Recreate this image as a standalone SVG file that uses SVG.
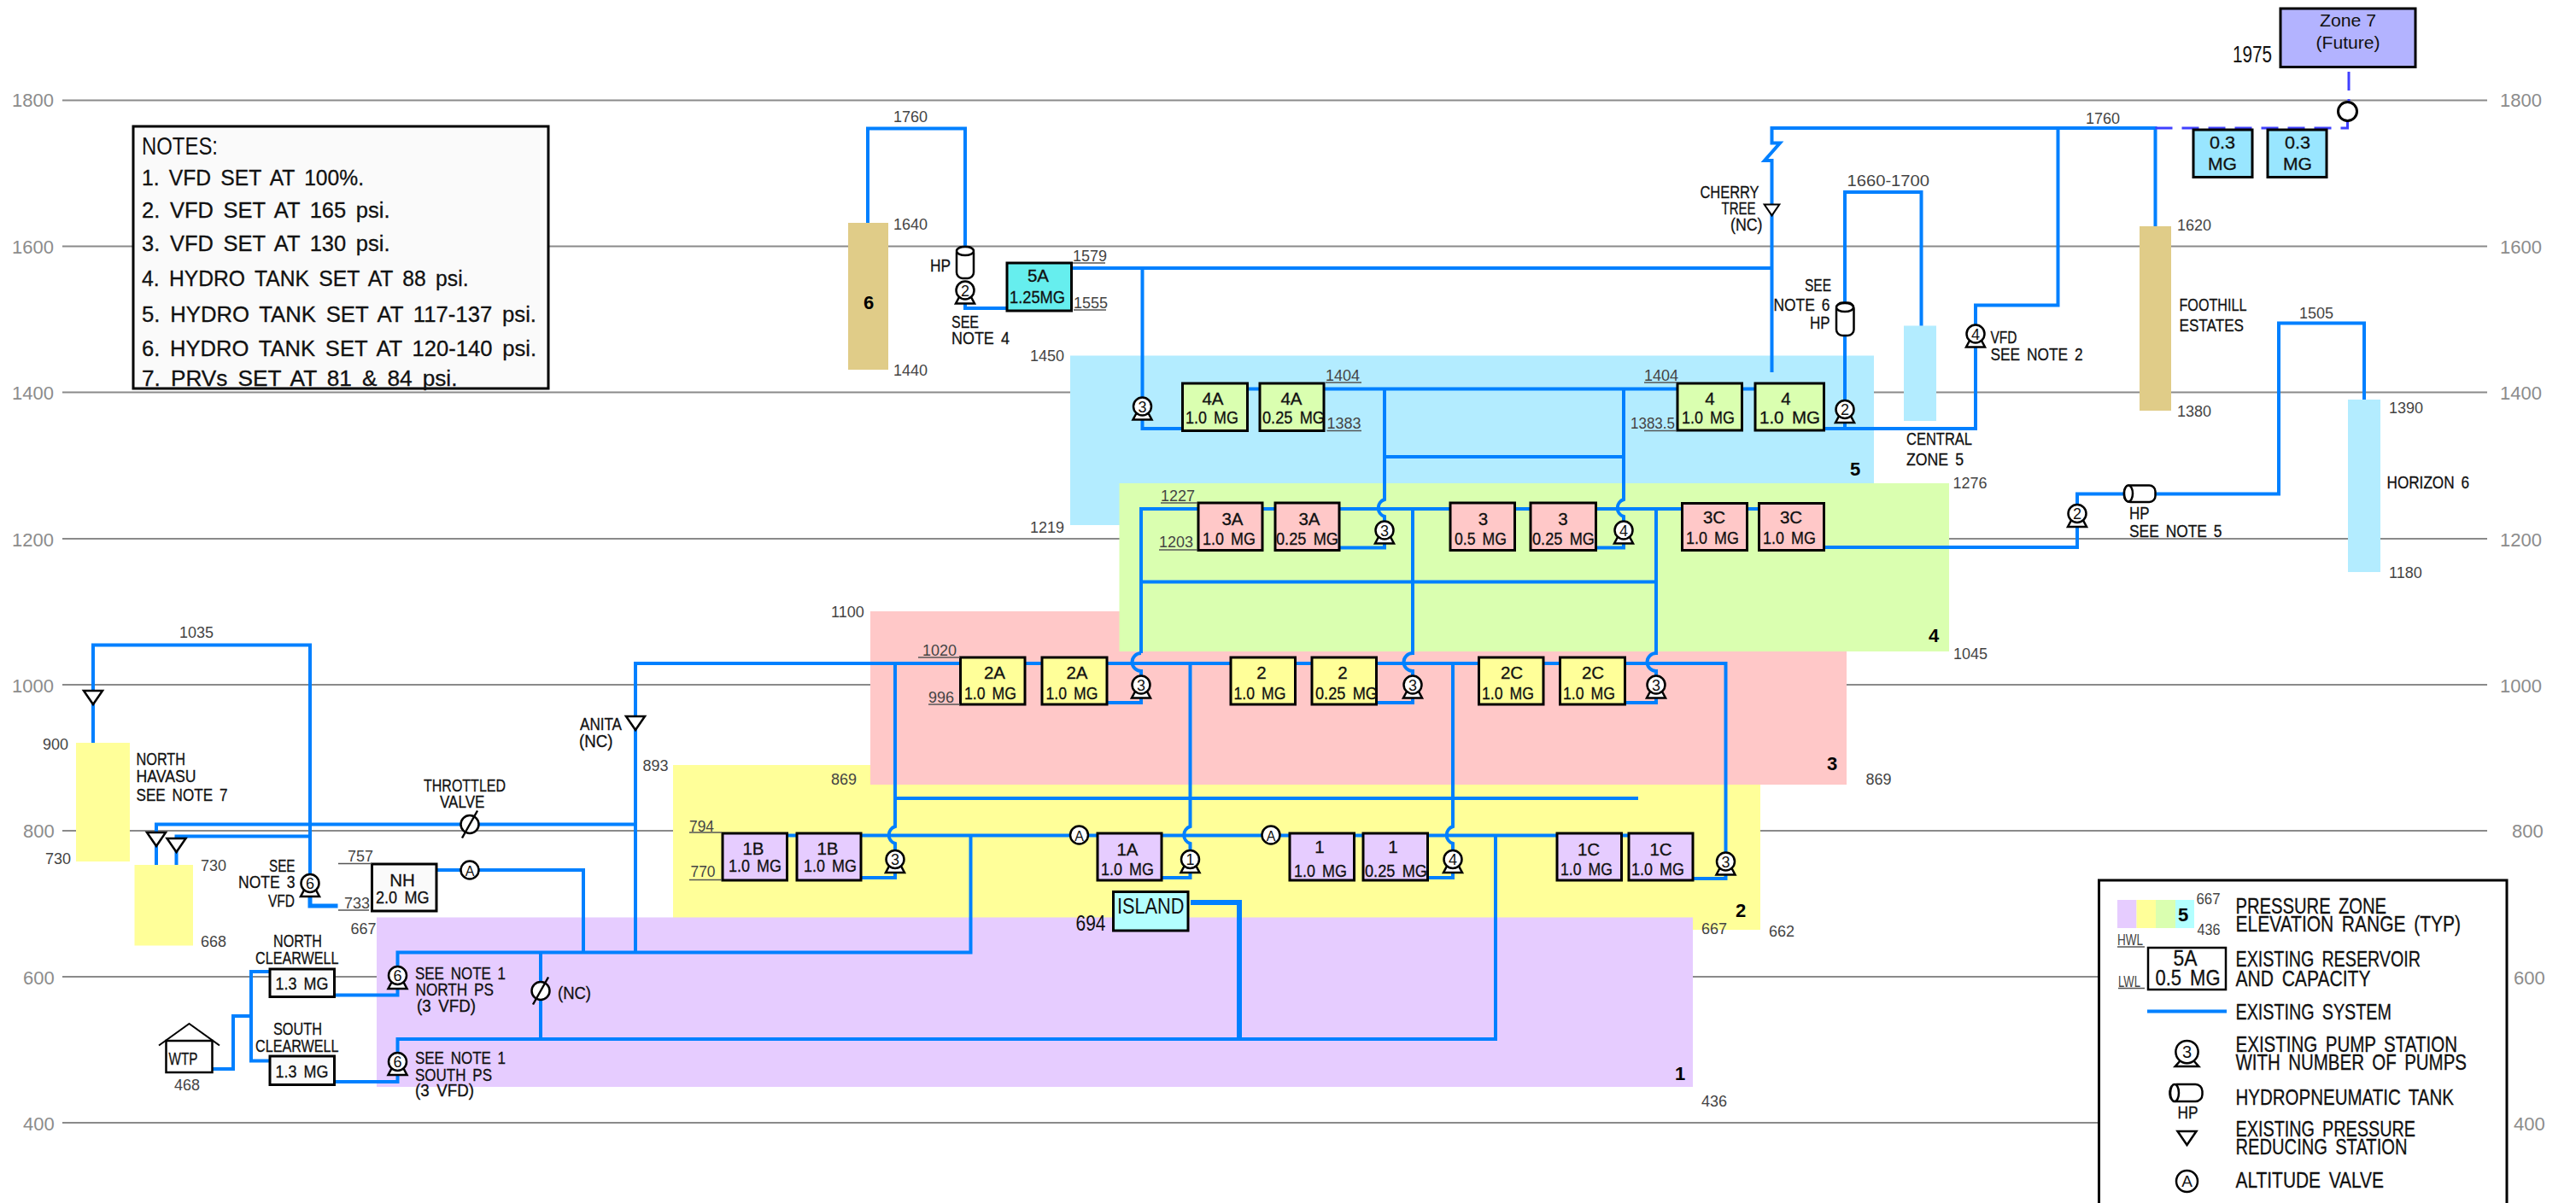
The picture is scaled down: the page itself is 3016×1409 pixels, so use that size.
<svg xmlns="http://www.w3.org/2000/svg" width="3016" height="1409" viewBox="0 0 3016 1409">
<style>
text{font-family:"Liberation Sans",Arial,sans-serif;fill:#111}
.g{fill:#8c8c8c;font-size:22px}
.n{fill:#444;font-size:18px}
.s{font-size:20.5px;word-spacing:.18em;stroke:#111;stroke-width:.3px}
.m{font-size:20.5px;word-spacing:.18em;stroke:#111;stroke-width:.3px}
.l{font-size:26px;word-spacing:.18em;stroke:#111;stroke-width:.3px}
.b{font-size:22px;font-weight:bold;fill:#000}
.c{text-anchor:middle}
.grid{stroke:#8a8a8a;stroke-width:2;fill:none}
.ul{stroke:#555;stroke-width:1.5;fill:none}
.p{stroke:#0080ff;stroke-width:4;fill:none;stroke-linejoin:miter}
.p6{stroke:#0080ff;stroke-width:6;fill:none}
.fut{stroke:#4040ff;stroke-width:3;fill:none}
.box{stroke:#000;stroke-width:3}
.sym{fill:#fff;stroke:#000;stroke-width:2.5}
.pt{font-size:18px;text-anchor:middle;transform:translateY(1px)}
</style>
<defs>
<g id="pump"><path class="sym" d="M-7,8 L-11,15.5 H11 L7,8Z"/><circle class="sym" r="10.5"/></g>
<path id="prv" class="sym" d="M-11,-8 H11 L0,8Z"/>
<g id="av"><circle class="sym" r="10.5"/></g>
<g id="tv"><circle class="sym" r="10.5"/><path d="M-9,16 L9,-16" stroke="#000" stroke-width="2.5"/></g>
</defs>
<rect width="3016" height="1409" fill="#fff"/>
<g id="grid">
<path class="grid" d="M73,117.5H2912M73,288.5H2912M73,459.5H2912M73,631H2912M73,802H2912M73,973H2912M73,1144H2912M73,1315H2912"/>
<text class="g" x="14" y="125">1800</text><text class="g" x="14" y="297">1600</text><text class="g" x="14" y="468">1400</text><text class="g" x="14" y="640">1200</text><text class="g" x="14" y="811">1000</text><text class="g" x="27" y="981">800</text><text class="g" x="27" y="1153">600</text><text class="g" x="27" y="1324">400</text>
<text class="g" x="2927" y="125">1800</text><text class="g" x="2927" y="297">1600</text><text class="g" x="2927" y="468">1400</text><text class="g" x="2927" y="640">1200</text><text class="g" x="2927" y="811">1000</text><text class="g" x="2941" y="981">800</text><text class="g" x="2943" y="1153">600</text><text class="g" x="2943" y="1324">400</text>
</g>
<g id="zones">
<rect x="788" y="896" width="1273" height="193" fill="#ffff99"/>
<rect x="441" y="1074.5" width="1541" height="198.5" fill="#e6ccff"/>
<rect x="1019" y="716" width="1143" height="203" fill="#ffc8c8"/>
<rect x="1253" y="416.5" width="941" height="198.5" fill="#b3ecff"/>
<rect x="1310.5" y="566" width="971.5" height="197" fill="#daffb0"/>
<rect x="993" y="261" width="47" height="172" fill="#e0cc88"/>
<rect x="2505" y="265" width="37" height="216" fill="#e0cc88"/>
<rect x="2229" y="381.5" width="38" height="111.5" fill="#b3ecff"/>
<rect x="2749" y="468" width="38" height="202" fill="#b3ecff"/>
<rect x="89" y="870" width="63" height="139" fill="#ffff99"/>
<rect x="157.5" y="1013" width="68.5" height="94.5" fill="#ffff99"/>
<text class="b c" x="1017" y="362">6</text><text class="b c" x="2172" y="557">5</text><text class="b c" x="2264" y="752">4</text><text class="b c" x="2145" y="902">3</text><text class="b c" x="2038" y="1074">2</text><text class="b c" x="1967" y="1265">1</text>
</g>
<g id="connectors">
<path class="p" d="M1016,261V150.5H1130V290M1130,356V361H1180"/>
<path class="p" d="M1254,314H2074.5M1337.5,314V466M1337.5,490V502H1385"/>
<path class="p" d="M1460,455.5H1475M1550,455.5H1964M2039,455.5H2056"/>
<path class="p" d="M1621,455.5V585A10.5,10.5 0 0 0 1621,605V612M1621,636V641.5H1568M1901,455.5V585A10.5,10.5 0 0 0 1901,605V612M1901,636V641.5H1868M1621,535H1901"/>
<path class="p" d="M1336,765V596H2060"/>
<path class="p" d="M1654,596V765A10.5,10.5 0 0 0 1654,786V792M1654,816V823H1611M1939,596V765A10.5,10.5 0 0 0 1939,786V792M1939,816V823H1902M1336,681.5H1939M1336,765A10.5,10.5 0 0 0 1336,786V792M1336,816V823H1296"/>
<path class="p" d="M744,1116V777H2020.5V998M2020.5,1022V1029H1982"/>
<path class="p" d="M1048,777V968A10.5,10.5 0 0 0 1048,988V997M1048,1021V1028H1008M1393.5,777V968A10.5,10.5 0 0 0 1393.5,988V997M1393.5,1021V1028H1360M1701,777V968A10.5,10.5 0 0 0 1701,988V997M1701,1021V1028H1671M1048,935H1918"/>
<path class="p" d="M921,978.5H1907"/>
<path class="p" d="M465.5,1132V1115.5H1136.5V978.5M465.5,1234V1217H1751V978.5"/>
<path class="p6" d="M1394,1057H1451V1217"/>
<path class="p" d="M683,1115.5V1019H511M633,1115.5V1217"/>
<path class="p" d="M183,1013V965.5H744M206.5,1013V979.5H363M109,870V755.5H363V1025"/>
<path class="p" style="stroke-width:5" d="M363,1050V1061H395.5"/>
<path class="p" d="M248.5,1252H273V1190H294M316,1138H294V1242.5H316"/>
<path class="p" d="M391.5,1165.5H465.5V1156M391.5,1267H465.5V1258"/>
<path class="p" d="M2523.5,265V150H2074.5V167.5H2084L2066,188H2074.5V436M2409.5,150V357.5H2313V381M2313,406V502H2135"/>
<path class="p" d="M2160,469V225H2249.5V381.5M2160,495V502"/>
<path class="p" d="M2135.5,641H2432V617M2432,591V578.5H2488M2523,578.5H2668V378.5H2768V468"/>
<path class="fut" stroke-dasharray="20 11" d="M2523.5,150H2748.5V141"/>
<path class="fut" stroke-dasharray="22 10" d="M2750,84V119"/>
</g>
<g id="zone-7"><rect class="box" x="2670" y="10" width="158" height="68.5" fill="#b3b3ff"/><text class="c" x="2749" y="31" font-size="21" textLength="66" lengthAdjust="spacingAndGlyphs">Zone 7</text><text class="c" x="2749" y="57" font-size="21" textLength="75" lengthAdjust="spacingAndGlyphs">(Future)</text><text x="2614" y="73" font-size="27" textLength="46" lengthAdjust="spacingAndGlyphs">1975</text></g>
<g id="future-valve"><circle cx="2748.5" cy="130.5" r="11" fill="#fff" stroke="#000" stroke-width="3"/></g>
<g id="res-03a"><rect class="box" x="2568" y="152" width="69" height="55.5" fill="#99e6ff"/><text class="m c" x="2602" y="174" textLength="30" lengthAdjust="spacingAndGlyphs">0.3</text><text class="m c" x="2602" y="199" textLength="34" lengthAdjust="spacingAndGlyphs">MG</text></g>
<g id="res-03b"><rect class="box" x="2655" y="152" width="69" height="55.5" fill="#99e6ff"/><text class="m c" x="2690" y="174" textLength="30" lengthAdjust="spacingAndGlyphs">0.3</text><text class="m c" x="2690" y="199" textLength="34" lengthAdjust="spacingAndGlyphs">MG</text></g>
<g id="res-5a"><rect class="box" x="1179" y="308" width="75.5" height="56" fill="#66eeee"/><text class="m c" x="1215.5" y="330">5A</text><text class="m" x="1182" y="355" textLength="65" lengthAdjust="spacingAndGlyphs">1.25MG</text></g>
<g id="res-4a-1"><rect class="box" x="1384.5" y="449" width="76" height="55.5" fill="#daffb0"/><text class="m c" x="1420" y="474">4A</text><text class="m" x="1388" y="496" textLength="62" lengthAdjust="spacingAndGlyphs">1.0 MG</text></g>
<g id="res-4a-2"><rect class="box" x="1475" y="449" width="75" height="55.5" fill="#daffb0"/><text class="m c" x="1512" y="474">4A</text><text class="m" x="1478" y="496" textLength="73" lengthAdjust="spacingAndGlyphs">0.25 MG</text></g>
<g id="res-4-1"><rect class="box" x="1964" y="449" width="75.5" height="55" fill="#daffb0"/><text class="m c" x="2002" y="474">4</text><text class="m" x="1969" y="496" textLength="62" lengthAdjust="spacingAndGlyphs">1.0 MG</text></g>
<g id="res-4-2"><rect class="box" x="2055" y="449" width="80.5" height="55" fill="#daffb0"/><text class="m c" x="2091" y="474">4</text><text class="m" x="2060" y="496" textLength="71" lengthAdjust="spacingAndGlyphs">1.0 MG</text></g>
<g id="res-3a-1"><rect class="box" x="1403" y="589" width="75" height="55.5" fill="#ffc8c8"/><text class="m c" x="1443" y="615">3A</text><text class="m" x="1408" y="637.5" textLength="62" lengthAdjust="spacingAndGlyphs">1.0 MG</text></g>
<g id="res-3a-2"><rect class="box" x="1493" y="589" width="75" height="55.5" fill="#ffc8c8"/><text class="m c" x="1533" y="615">3A</text><text class="m" x="1494" y="637.5" textLength="73" lengthAdjust="spacingAndGlyphs">0.25 MG</text></g>
<g id="res-3-1"><rect class="box" x="1698" y="589" width="75.5" height="55.5" fill="#ffc8c8"/><text class="m c" x="1736.5" y="615">3</text><text class="m" x="1703" y="637.5" textLength="61" lengthAdjust="spacingAndGlyphs">0.5 MG</text></g>
<g id="res-3-2"><rect class="box" x="1792" y="589" width="76.5" height="55.5" fill="#ffc8c8"/><text class="m c" x="1830" y="615">3</text><text class="m" x="1794" y="637.5" textLength="73" lengthAdjust="spacingAndGlyphs">0.25 MG</text></g>
<g id="res-3c-1"><rect class="box" x="1969.5" y="589.5" width="76" height="55" fill="#ffc8c8"/><text class="m c" x="2007" y="613">3C</text><text class="m" x="1974" y="637" textLength="62" lengthAdjust="spacingAndGlyphs">1.0 MG</text></g>
<g id="res-3c-2"><rect class="box" x="2059.5" y="589.5" width="76" height="55" fill="#ffc8c8"/><text class="m c" x="2097" y="613">3C</text><text class="m" x="2064" y="637" textLength="62" lengthAdjust="spacingAndGlyphs">1.0 MG</text></g>
<g id="res-2a-1"><rect class="box" x="1124.5" y="770" width="75.5" height="55" fill="#ffff99"/><text class="m c" x="1164.5" y="795">2A</text><text class="m" x="1129" y="819" textLength="61" lengthAdjust="spacingAndGlyphs">1.0 MG</text></g>
<g id="res-2a-2"><rect class="box" x="1220" y="770" width="76" height="55" fill="#ffff99"/><text class="m c" x="1261" y="795">2A</text><text class="m" x="1224.5" y="819" textLength="61" lengthAdjust="spacingAndGlyphs">1.0 MG</text></g>
<g id="res-2-1"><rect class="box" x="1441" y="770" width="75.5" height="55" fill="#ffff99"/><text class="m c" x="1477" y="795">2</text><text class="m" x="1444.5" y="819" textLength="61" lengthAdjust="spacingAndGlyphs">1.0 MG</text></g>
<g id="res-2-2"><rect class="box" x="1536" y="770" width="75.5" height="55" fill="#ffff99"/><text class="m c" x="1572" y="795">2</text><text class="m" x="1540" y="819" textLength="73" lengthAdjust="spacingAndGlyphs">0.25 MG</text></g>
<g id="res-2c-1"><rect class="box" x="1731.5" y="770" width="75.5" height="55" fill="#ffff99"/><text class="m c" x="1770" y="795">2C</text><text class="m" x="1735" y="819" textLength="61" lengthAdjust="spacingAndGlyphs">1.0 MG</text></g>
<g id="res-2c-2"><rect class="box" x="1826.5" y="770" width="76" height="55" fill="#ffff99"/><text class="m c" x="1865" y="795">2C</text><text class="m" x="1830" y="819" textLength="61" lengthAdjust="spacingAndGlyphs">1.0 MG</text></g>
<g id="res-1b-1"><rect class="box" x="846" y="976" width="75.5" height="55" fill="#e6ccff"/><text class="m c" x="882" y="1001">1B</text><text class="m" x="853" y="1021" textLength="62" lengthAdjust="spacingAndGlyphs">1.0 MG</text></g>
<g id="res-1b-2"><rect class="box" x="933" y="976" width="75" height="55" fill="#e6ccff"/><text class="m c" x="969" y="1001">1B</text><text class="m" x="941" y="1021" textLength="62" lengthAdjust="spacingAndGlyphs">1.0 MG</text></g>
<g id="res-1a"><rect class="box" x="1285" y="976" width="75" height="55" fill="#e6ccff"/><text class="m c" x="1320" y="1002">1A</text><text class="m" x="1289" y="1024.5" textLength="62" lengthAdjust="spacingAndGlyphs">1.0 MG</text></g>
<g id="res-1-1"><rect class="box" x="1510" y="976" width="75.5" height="55" fill="#e6ccff"/><text class="m c" x="1545" y="998.5">1</text><text class="m" x="1515" y="1026.5" textLength="62" lengthAdjust="spacingAndGlyphs">1.0 MG</text></g>
<g id="res-1-2"><rect class="box" x="1596" y="976" width="75.5" height="55" fill="#e6ccff"/><text class="m c" x="1631" y="998.5">1</text><text class="m" x="1598" y="1026.5" textLength="73" lengthAdjust="spacingAndGlyphs">0.25 MG</text></g>
<g id="res-1c-1"><rect class="box" x="1823" y="976" width="75.5" height="55" fill="#e6ccff"/><text class="m c" x="1860" y="1002">1C</text><text class="m" x="1827" y="1024.5" textLength="61" lengthAdjust="spacingAndGlyphs">1.0 MG</text></g>
<g id="res-1c-2"><rect class="box" x="1907" y="976" width="75" height="55" fill="#e6ccff"/><text class="m c" x="1944.5" y="1002">1C</text><text class="m" x="1910" y="1024.5" textLength="62" lengthAdjust="spacingAndGlyphs">1.0 MG</text></g>
<g id="island"><rect class="box" x="1303.5" y="1044.5" width="87.5" height="45.5" fill="#b3ffff"/><text x="1308" y="1070" font-size="25" textLength="78.5" lengthAdjust="spacingAndGlyphs">ISLAND</text><text x="1259.5" y="1090" font-size="25" textLength="35" lengthAdjust="spacingAndGlyphs">694</text></g>
<g id="res-nh"><rect class="box" x="435.5" y="1012" width="75.5" height="55" fill="#fafafa"/><text class="m c" x="471" y="1038">NH</text><text class="m" x="440" y="1058" textLength="62.5" lengthAdjust="spacingAndGlyphs">2.0 MG</text></g>
<g id="north-clearwell"><rect class="box" x="316" y="1135" width="75.5" height="32.5" fill="#fafafa"/><text class="m" x="322.5" y="1159" textLength="62" lengthAdjust="spacingAndGlyphs">1.3 MG</text><text class="s" x="320" y="1109" textLength="57" lengthAdjust="spacingAndGlyphs">NORTH</text><text class="s" x="299" y="1129" textLength="97.5" lengthAdjust="spacingAndGlyphs">CLEARWELL</text></g>
<g id="south-clearwell"><rect class="box" x="316" y="1237" width="75.5" height="33.5" fill="#fafafa"/><text class="m" x="322.5" y="1262" textLength="62" lengthAdjust="spacingAndGlyphs">1.3 MG</text><text class="s" x="320" y="1212" textLength="57" lengthAdjust="spacingAndGlyphs">SOUTH</text><text class="s" x="299" y="1232" textLength="97.5" lengthAdjust="spacingAndGlyphs">CLEARWELL</text></g>
<g id="wtp"><rect x="194.5" y="1219" width="54" height="37" fill="#fff" stroke="#000" stroke-width="2.5"/><path d="M186,1224.5L221.5,1199L257,1224.5" fill="none" stroke="#000" stroke-width="2"/><text class="s" x="197.5" y="1246.5" textLength="34" lengthAdjust="spacingAndGlyphs">WTP</text><text class="n" x="204" y="1277">468</text></g>
<g id="pumps">
<g id="ps-5a"><use href="#pump" x="1130" y="340"/><text class="pt" x="1130" y="345.5">2</text></g>
<g id="ps-4a"><use href="#pump" x="1337.5" y="476"/><text class="pt" x="1337.5" y="481.5">3</text></g>
<g id="ps-3a"><use href="#pump" x="1621" y="621"/><text class="pt" x="1621" y="626.5">3</text></g>
<g id="ps-3"><use href="#pump" x="1901" y="621"/><text class="pt" x="1901" y="626.5">4</text></g>
<g id="ps-2a"><use href="#pump" x="1336" y="802"/><text class="pt" x="1336" y="807.5">3</text></g>
<g id="ps-2"><use href="#pump" x="1654" y="802"/><text class="pt" x="1654" y="807.5">3</text></g>
<g id="ps-2c"><use href="#pump" x="1939" y="802"/><text class="pt" x="1939" y="807.5">3</text></g>
<g id="ps-1b"><use href="#pump" x="1048" y="1006.5"/><text class="pt" x="1048" y="1012">3</text></g>
<g id="ps-1a"><use href="#pump" x="1393.5" y="1006.5"/><text class="pt" x="1393.5" y="1012">1</text></g>
<g id="ps-1"><use href="#pump" x="1701" y="1006.5"/><text class="pt" x="1701" y="1012">4</text></g>
<g id="ps-1c"><use href="#pump" x="2020.5" y="1009"/><text class="pt" x="2020.5" y="1014.5">3</text></g>
<g id="ps-4"><use href="#pump" x="2160" y="479.5"/><text class="pt" x="2160" y="485">2</text></g>
<g id="ps-vfd"><use href="#pump" x="2313" y="391"/><text class="pt" x="2313" y="396.5">4</text></g>
<g id="ps-horizon"><use href="#pump" x="2432" y="601.5"/><text class="pt" x="2432" y="607">2</text></g>
<g id="ps-nh"><use href="#pump" x="363" y="1034.5"/><text class="pt" x="363" y="1040">6</text></g>
<g id="ps-north"><use href="#pump" x="465.5" y="1142.5"/><text class="pt" x="465.5" y="1148">6</text></g>
<g id="ps-south"><use href="#pump" x="465.5" y="1243.5"/><text class="pt" x="465.5" y="1249">6</text></g>
</g>
<g id="tanks">
<g id="hp-5a"><rect class="sym" x="1120" y="289" width="20" height="37" rx="7"/><ellipse class="sym" cx="1130" cy="294" rx="10" ry="5"/></g>
<g id="hp-4"><rect class="sym" x="2150" y="354.5" width="20.5" height="38.5" rx="7"/><ellipse class="sym" cx="2160" cy="360" rx="10" ry="5"/></g>
<g id="hp-horizon"><rect class="sym" x="2487" y="568.5" width="36.5" height="19.5" rx="7"/><ellipse class="sym" cx="2492" cy="578" rx="5" ry="9.5"/></g>
</g>
<g id="prvs">
<use id="prv-cherry" href="#prv" transform="translate(2074.5,246) scale(.8)"/>
<use id="prv-nh" href="#prv" x="109" y="817"/>
<use id="prv-a" href="#prv" x="183" y="983"/>
<use id="prv-b" href="#prv" x="206.5" y="990"/>
<use id="prv-anita" href="#prv" x="744" y="847"/>
</g>
<g id="valves">
<use id="tv-throttled" href="#tv" x="550" y="965.5"/>
<use id="tv-nc" href="#tv" x="633" y="1160.5"/>
<g id="av-nh"><use href="#av" x="550" y="1019"/><text class="pt" x="550" y="1024.5" style="font-size:16px">A</text></g>
<g id="av-1a"><use href="#av" x="1263.5" y="978"/><text class="pt" x="1263.5" y="983.5" style="font-size:16px">A</text></g>
<g id="av-1"><use href="#av" x="1488" y="978"/><text class="pt" x="1488" y="983.5" style="font-size:16px">A</text></g>
</g>
<g id="labels">
<text class="n" x="1046" y="143">1760</text><text class="n" x="1046" y="269">1640</text><text class="n" x="1046" y="440">1440</text>
<text class="s" x="1089" y="318" textLength="24" lengthAdjust="spacingAndGlyphs">HP</text>
<text class="s" x="1114" y="384" textLength="32" lengthAdjust="spacingAndGlyphs">SEE</text><text class="s" x="1114" y="403" textLength="68" lengthAdjust="spacingAndGlyphs">NOTE 4</text>
<text class="n" x="1256" y="306">1579</text><text class="n" x="1257" y="361">1555</text>
<text class="n" x="1206" y="423">1450</text><text class="n" x="1206" y="623.5">1219</text>
<text class="n" x="1552" y="446">1404</text><text class="n" x="1553.5" y="502">1383</text><text class="n" x="1925" y="446">1404</text><text class="n" x="1909" y="502" textLength="52" lengthAdjust="spacingAndGlyphs">1383.5</text>
<text class="n" x="1359" y="587">1227</text><text class="n" x="1357" y="640.5">1203</text>
<text class="n" x="1080" y="768">1020</text><text class="n" x="1087" y="823">996</text><text class="n" x="973" y="722.5">1100</text><text class="n" x="973" y="918.5">869</text><text class="n" x="752.5" y="902.5">893</text>
<path class="ul" d="M1256,308H1294M1257,363H1295M1552,448H1594M1553.5,504.5H1594M1925,448H1963M1925,504.5H1963M1359,589H1402M1357,644H1402M1075,770H1124M1087,825H1124M807,975H845M807,1030.5H845M396,1011.5H435M396,1066H432"/>
<text class="n" x="807" y="973.5" textLength="29" lengthAdjust="spacingAndGlyphs">794</text><text class="n" x="808.5" y="1026.5" textLength="29" lengthAdjust="spacingAndGlyphs">770</text>
<text class="n" x="2442" y="145">1760</text>
<text class="n" x="2162.5" y="218" textLength="96.5" lengthAdjust="spacingAndGlyphs">1660-1700</text>
<text class="s" x="2113" y="340.5" textLength="31" lengthAdjust="spacingAndGlyphs">SEE</text><text class="s" x="2076.5" y="364" textLength="66" lengthAdjust="spacingAndGlyphs">NOTE 6</text><text class="s" x="2119" y="385" textLength="23.5" lengthAdjust="spacingAndGlyphs">HP</text>
<text class="s" x="1990.5" y="232" textLength="69" lengthAdjust="spacingAndGlyphs">CHERRY</text><text class="s" x="2015.5" y="251" textLength="40" lengthAdjust="spacingAndGlyphs">TREE</text><text class="s" x="2026" y="270" textLength="37.5" lengthAdjust="spacingAndGlyphs">(NC)</text>
<text class="s" x="2330.5" y="401.5" textLength="31" lengthAdjust="spacingAndGlyphs">VFD</text><text class="s" x="2330.5" y="421.5" textLength="108" lengthAdjust="spacingAndGlyphs">SEE NOTE 2</text>
<text class="s" x="2232" y="521" textLength="77" lengthAdjust="spacingAndGlyphs">CENTRAL</text><text class="s" x="2232" y="545" textLength="67" lengthAdjust="spacingAndGlyphs">ZONE 5</text>
<text class="n" x="2286.5" y="571.5">1276</text><text class="n" x="2287" y="771.5">1045</text><text class="n" x="2184.5" y="918.5">869</text><text class="n" x="2071" y="1096.5">662</text><text class="n" x="1992" y="1093.5">667</text><text class="n" x="1992" y="1296">436</text>
<text class="s" x="2551.5" y="363.5" textLength="79" lengthAdjust="spacingAndGlyphs">FOOTHILL</text><text class="s" x="2551.5" y="388" textLength="75.5" lengthAdjust="spacingAndGlyphs">ESTATES</text>
<text class="n" x="2549" y="270">1620</text><text class="n" x="2549" y="487.5">1380</text><text class="n" x="2692" y="372.5">1505</text><text class="n" x="2797" y="483.5">1390</text><text class="n" x="2797" y="677">1180</text>
<text class="s" x="2794.5" y="572" textLength="96.5" lengthAdjust="spacingAndGlyphs">HORIZON 6</text>
<text class="s" x="2493" y="608" textLength="23.5" lengthAdjust="spacingAndGlyphs">HP</text><text class="s" x="2493" y="629" textLength="108.5" lengthAdjust="spacingAndGlyphs">SEE NOTE 5</text>
<text class="n" x="210" y="747">1035</text><text class="n" x="50" y="877.5">900</text><text class="n" x="53" y="1012">730</text><text class="n" x="235" y="1020">730</text><text class="n" x="235" y="1109">668</text>
<text class="s" x="159.5" y="895.5" textLength="57.5" lengthAdjust="spacingAndGlyphs">NORTH</text><text class="s" x="159.5" y="915.5" textLength="70" lengthAdjust="spacingAndGlyphs">HAVASU</text><text class="s" x="159.5" y="937.5" textLength="107" lengthAdjust="spacingAndGlyphs">SEE NOTE 7</text>
<text class="s" x="496" y="926.5" textLength="96" lengthAdjust="spacingAndGlyphs">THROTTLED</text><text class="s" x="515" y="945.5" textLength="52.5" lengthAdjust="spacingAndGlyphs">VALVE</text>
<text class="s" x="679" y="854.5" textLength="49" lengthAdjust="spacingAndGlyphs">ANITA</text><text class="s" x="678" y="874.5" textLength="39.5" lengthAdjust="spacingAndGlyphs">(NC)</text>
<text class="s" x="315" y="1021" textLength="30.5" lengthAdjust="spacingAndGlyphs">SEE</text><text class="s" x="279" y="1040" textLength="66.5" lengthAdjust="spacingAndGlyphs">NOTE 3</text><text class="s" x="314" y="1062" textLength="31" lengthAdjust="spacingAndGlyphs">VFD</text>
<text class="n" x="407" y="1009">757</text><text class="n" x="403" y="1064">733</text><text class="n" x="410.5" y="1093.5">667</text>
<text class="s" x="486" y="1147" textLength="106" lengthAdjust="spacingAndGlyphs">SEE NOTE 1</text><text class="s" x="486.5" y="1166" textLength="91.5" lengthAdjust="spacingAndGlyphs">NORTH PS</text><text class="s" x="488" y="1185" textLength="69" lengthAdjust="spacingAndGlyphs">(3 VFD)</text>
<text class="s" x="486" y="1245.5" textLength="106" lengthAdjust="spacingAndGlyphs">SEE NOTE 1</text><text class="s" x="486" y="1265.5" textLength="90" lengthAdjust="spacingAndGlyphs">SOUTH PS</text><text class="s" x="486" y="1284" textLength="69" lengthAdjust="spacingAndGlyphs">(3 VFD)</text>
<text class="s" x="653" y="1169.5" textLength="39" lengthAdjust="spacingAndGlyphs">(NC)</text>
</g>
<g id="notes">
<rect x="156" y="148" width="486" height="307" fill="#fafafa" stroke="#000" stroke-width="3"/>
<text x="166" y="181" font-size="30" textLength="89" lengthAdjust="spacingAndGlyphs">NOTES:</text>
<text class="l" x="166" y="217" textLength="260" lengthAdjust="spacingAndGlyphs">1. VFD SET AT 100%.</text>
<text class="l" x="166" y="255" textLength="290.5" lengthAdjust="spacingAndGlyphs">2. VFD SET AT 165 psi.</text>
<text class="l" x="166" y="294" textLength="290.5" lengthAdjust="spacingAndGlyphs">3. VFD SET AT 130 psi.</text>
<text class="l" x="166" y="335" textLength="382.5" lengthAdjust="spacingAndGlyphs">4. HYDRO TANK SET AT 88 psi.</text>
<text class="l" x="166" y="376.5" textLength="462" lengthAdjust="spacingAndGlyphs">5. HYDRO TANK SET AT 117-137 psi.</text>
<text class="l" x="166" y="416.5" textLength="462" lengthAdjust="spacingAndGlyphs">6. HYDRO TANK SET AT 120-140 psi.</text>
<text class="l" x="166" y="451.5" textLength="369.5" lengthAdjust="spacingAndGlyphs">7. PRVs SET AT 81 &amp; 84 psi.</text>
</g>
<g id="legend">
<rect x="2457.5" y="1031" width="477.5" height="390" fill="#fff" stroke="#000" stroke-width="3"/>
<rect x="2479" y="1054" width="22.5" height="33" fill="#e6ccff"/><rect x="2501.5" y="1054" width="22.5" height="33" fill="#ffff99"/><rect x="2524" y="1054" width="23" height="33" fill="#daffb0"/><rect x="2547" y="1054" width="22" height="33" fill="#b3ffff"/>
<text class="b c" x="2556" y="1078.5">5</text>
<text class="n" x="2571.5" y="1058.5" textLength="28" lengthAdjust="spacingAndGlyphs">667</text><text class="n" x="2572.5" y="1095" textLength="27" lengthAdjust="spacingAndGlyphs">436</text>
<text class="l" x="2617.5" y="1070" textLength="176.5" lengthAdjust="spacingAndGlyphs">PRESSURE ZONE</text><text class="l" x="2617.5" y="1090.5" textLength="263.5" lengthAdjust="spacingAndGlyphs">ELEVATION RANGE (TYP)</text>
<text class="n" x="2479" y="1107" textLength="30" lengthAdjust="spacingAndGlyphs">HWL</text><text class="n" x="2480" y="1155.5" textLength="26" lengthAdjust="spacingAndGlyphs">LWL</text>
<path class="ul" d="M2479,1109H2511M2480,1157.5H2511"/>
<rect x="2515" y="1110" width="91" height="49" fill="#fff" stroke="#000" stroke-width="2.5"/>
<text class="l c" x="2558.5" y="1130.5" textLength="28" lengthAdjust="spacingAndGlyphs">5A</text><text class="l" x="2523.5" y="1154" textLength="76" lengthAdjust="spacingAndGlyphs">0.5 MG</text>
<text class="l" x="2617.5" y="1132" textLength="216.5" lengthAdjust="spacingAndGlyphs">EXISTING RESERVOIR</text><text class="l" x="2617.5" y="1154.5" textLength="158" lengthAdjust="spacingAndGlyphs">AND CAPACITY</text>
<path class="p" d="M2514,1184.5H2607"/>
<text class="l" x="2617.5" y="1194" textLength="182.5" lengthAdjust="spacingAndGlyphs">EXISTING SYSTEM</text>
<g transform="translate(2560.5,1232) scale(1.25)"><path d="M-6,8 L-11,13.5 H11 L6,8" fill="#fff" stroke="#000" stroke-width="2"/><circle r="10.5" fill="#fff" stroke="#000" stroke-width="2"/></g>
<text class="pt" x="2560.5" y="1238" style="font-size:20px">3</text>
<text class="l" x="2617.5" y="1232" textLength="259.5" lengthAdjust="spacingAndGlyphs">EXISTING PUMP STATION</text><text class="l" x="2617.5" y="1252.5" textLength="270.5" lengthAdjust="spacingAndGlyphs">WITH NUMBER OF PUMPS</text>
<rect class="sym" x="2540.5" y="1270" width="38" height="20" rx="8"/><ellipse class="sym" cx="2546" cy="1280" rx="5" ry="10"/>
<text class="s" x="2549.5" y="1309.5" textLength="24" lengthAdjust="spacingAndGlyphs">HP</text>
<text class="l" x="2617.5" y="1294" textLength="255.5" lengthAdjust="spacingAndGlyphs">HYDROPNEUMATIC TANK</text>
<path class="sym" d="M2549.5,1325H2571.5L2560.5,1341Z"/>
<text class="l" x="2617.5" y="1331" textLength="210.5" lengthAdjust="spacingAndGlyphs">EXISTING PRESSURE</text><text class="l" x="2617.5" y="1351.5" textLength="201" lengthAdjust="spacingAndGlyphs">REDUCING STATION</text>
<circle class="sym" cx="2560.5" cy="1383.5" r="12.5"/><text class="c" x="2560.5" y="1390" font-size="19">A</text>
<text class="l" x="2617.5" y="1391" textLength="173.5" lengthAdjust="spacingAndGlyphs">ALTITUDE VALVE</text>
</g>
</svg>
